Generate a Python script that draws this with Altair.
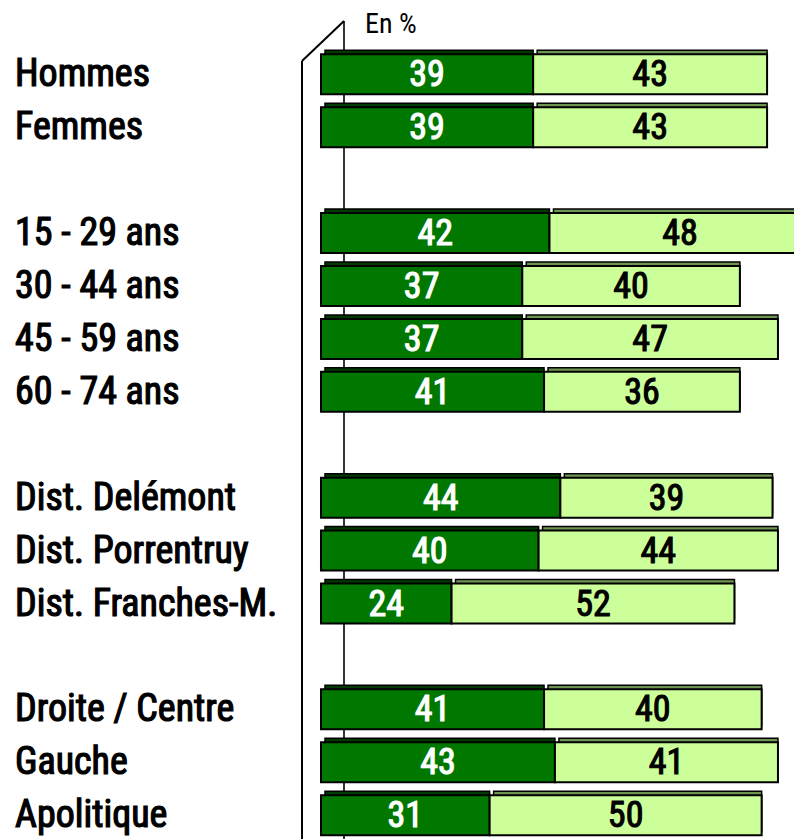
import altair as alt
import pandas as pd

categories = ["Hommes", "Femmes", "15 - 29 ans", "30 - 44 ans", "45 - 59 ans",
              "60 - 74 ans", "Dist. Delémont", "Dist. Porrentruy",
              "Dist. Franches-M.", "Droite / Centre", "Gauche", "Apolitique"]
groups = [0, 0, 1, 1, 1, 1, 2, 2, 2, 3, 3, 3]
dark_vals = [39, 39, 42, 37, 37, 41, 44, 40, 24, 41, 43, 31]
light_vals = [43, 43, 48, 40, 47, 36, 39, 44, 52, 40, 41, 50]

DARK = "#007800"
LIGHT = "#CCFF99"
DARK_DEPTH = "#003A00"
LIGHT_DEPTH = "#6F9552"
FONT = "Liberation Sans Narrow, Roboto Condensed, DejaVu Sans Condensed, sans-serif"

rows = [i + g for i, g in enumerate(groups)]
segs = []
for c, r, d, l in zip(categories, rows, dark_vals, light_vals):
    segs.append(dict(cat=c, row=r, start=0, end=d, val=d, seg="dark",
                     fill=DARK, depth=DARK_DEPTH, tcol="white"))
    segs.append(dict(cat=c, row=r, start=d, end=d + l, val=l, seg="light",
                     fill=LIGHT, depth=LIGHT_DEPTH, tcol="black"))
df = pd.DataFrame(segs)
df["mid"] = (df["start"] + df["end"]) / 2
lab = pd.DataFrame(dict(cat=categories, row=rows))

W, H = 786, 831
xa = (8 - 321) / 5.44
xscale = alt.Scale(domain=[xa, xa + W / 5.44], nice=False, zero=False)
y0 = -62 / 53.57
yscale = alt.Scale(domain=[y0, y0 + H / 53.57], nice=False, zero=False, reverse=True)

base = alt.Chart(df)
Y = alt.Y("row:Q", scale=yscale, axis=None)

one = alt.Chart(pd.DataFrame({"a": [0]}))
back_line = one.mark_rule(color="black", strokeWidth=1.6).encode(
    x=alt.value(336), y=alt.value(13), y2=alt.value(H))
front_line = one.mark_rule(color="black", strokeWidth=2).encode(
    x=alt.value(294), y=alt.value(53), y2=alt.value(H))
diag = one.mark_rule(color="black", strokeWidth=2).encode(
    x=alt.value(294), y=alt.value(53), x2=alt.value(336), y2=alt.value(13))
en_pct = one.mark_text(text="En %", font=FONT, fontSize=28, align="left",
                       baseline="middle", color="black").encode(
    x=alt.value(357), y=alt.value(17))

depth = base.mark_bar(size=40, xOffset=4, yOffset=-4, stroke="black",
                      strokeWidth=1.5).encode(
    x=alt.X("start:Q", scale=xscale, axis=None), x2="end:Q", y=Y,
    color=alt.Color("depth:N", scale=None))
front = base.mark_bar(size=40, stroke="black", strokeWidth=2).encode(
    x=alt.X("start:Q", scale=xscale, axis=None), x2="end:Q", y=Y,
    color=alt.Color("fill:N", scale=None))
vals = base.mark_text(font=FONT, fontSize=36, strokeWidth=1.1,
                      baseline="middle", dy=1).encode(
    x=alt.X("mid:Q", scale=xscale, axis=None), y=Y,
    text="val:Q", color=alt.Color("tcol:N", scale=None),
    stroke=alt.Color("tcol:N", scale=None))
labels = alt.Chart(lab).mark_text(font=FONT, fontSize=38, stroke="black",
                                  strokeWidth=1.2, align="left",
                                  baseline="middle", color="black", dy=1).encode(
    x=alt.value(7), y=Y, text="cat:N")

chart = alt.layer(back_line, front_line, diag, en_pct, depth, front, vals,
                  labels).properties(
    width=W, height=H, padding=0, autosize=alt.AutoSizeParams(type="none")
).configure_view(stroke=None)

chart.save("out.html", embed_options={"renderer": "svg", "actions": False})
